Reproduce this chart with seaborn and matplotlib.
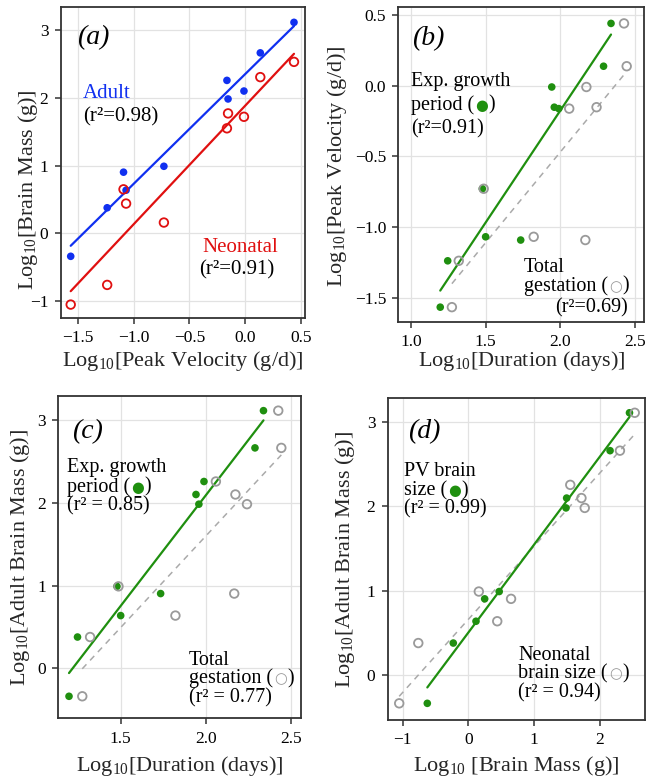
import numpy as np
import pandas as pd
import matplotlib
matplotlib.use("Agg")
import matplotlib.pyplot as plt
import seaborn as sns
from matplotlib.ticker import FixedLocator, FuncFormatter

# ---------------- data (log10 values, one entry per species) ----------------
peak_velocity  = [0.44, 0.137, -0.163, -0.010, -0.153, -0.730, -1.070, -1.093, -1.240, -1.568]
adult_brain    = [3.113, 2.663, 2.257, 2.100, 1.983, 0.990, 0.637, 0.903, 0.378, -0.338]
neonatal_brain = [2.53, 2.305, 1.55, 1.72, 1.77, 0.16, 0.44, 0.65, -0.76, -1.05]
exp_growth     = [2.34, 2.29, 1.99, 1.943, 1.96, 1.478, 1.50, 1.735, 1.246, 1.196]
gestation      = [2.427, 2.445, 2.06, 2.175, 2.243, 1.487, 1.822, 2.168, 1.32, 1.274]
pv_brain       = [2.45, 2.155, np.nan, 1.495, 1.485, 0.47, 0.117, 0.249, -0.228, -0.623]

df = pd.DataFrame(dict(pv=peak_velocity, adult=adult_brain, neo=neonatal_brain,
                       exp=exp_growth, gest=gestation, pvb=pv_brain))

a_xticks = [-1.5, -1.0, -0.5, 0.0, 0.5]
a_yticks = [-1, 0, 1, 2, 3]
b_xticks = [1.0, 1.5, 2.0, 2.5]
b_yticks = [-1.5, -1.0, -0.5, 0.0, 0.5]
c_xticks = [1.5, 2.0, 2.5]
c_yticks = [0, 1, 2, 3]
d_xticks = [-1, 0, 1, 2]
d_yticks = [0, 1, 2, 3]

# ---------------- style ----------------
sns.set_theme(style="white")
plt.rcParams["font.family"] = ["Liberation Serif", "DejaVu Serif"]
plt.rcParams["mathtext.fontset"] = "custom"
plt.rcParams["mathtext.rm"] = "Liberation Serif"

BLUE = "#1030f0"
RED = "#e01010"
GREEN = "#1f8f0f"
GRAY = "#9a9a9a"
DGRAY = "#aaaaaa"
FRAME = "#333333"

W, H = 647, 782
fig = plt.figure(figsize=(W / 100, H / 100), dpi=100)


def rect(l, t, r, b):
    return [l / W, 1 - b / H, (r - l) / W, (b - t) / H]


boxes = {
    "a": (60.7, 7.3, 305.0, 318.0),
    "b": (398.3, 7.3, 644.3, 322.0),
    "c": (58.3, 396.0, 300.7, 718.3),
    "d": (387.7, 398.3, 645.0, 720.0),
}
axes = {k: fig.add_axes(rect(*v)) for k, v in boxes.items()}


def fmt(spec):
    return FuncFormatter(lambda v, p: (spec % v).replace("-", "\u2212"))


def style_axis(key, xlim, ylim, xt, yt, xfmt, yfmt, xlabel, ylabel,
               xl_base, yl_x, yl_y=None):
    ax = axes[key]
    l, t, r, b = boxes[key]
    ax.set_xlim(*xlim)
    ax.set_ylim(*ylim)
    ax.xaxis.set_major_locator(FixedLocator(xt))
    ax.yaxis.set_major_locator(FixedLocator(yt))
    ax.xaxis.set_major_formatter(fmt(xfmt))
    ax.yaxis.set_major_formatter(fmt(yfmt))
    ax.grid(True, color="#e2e2e2", lw=0.9)
    ax.set_axisbelow(True)
    for s in ax.spines.values():
        s.set_color(FRAME)
        s.set_linewidth(1.3)
        s.set_visible(True)
    ax.tick_params(direction="out", length=4.3, width=1.1, color=FRAME,
                   labelsize=12.5, pad=4.5, labelcolor="black",
                   bottom=True, left=True)
    ax.set_xlabel(xlabel, fontsize=16)
    ax.set_ylabel(ylabel, fontsize=16)
    ax.xaxis.label.set_va("baseline")
    ax.xaxis.set_label_coords(0.5, (b - xl_base) / (b - t))
    if yl_y is None:
        yl_y = (t + b) / 2
    ax.yaxis.label.set_va("center")
    ax.yaxis.label.set_ha("center")
    ax.yaxis.set_label_coords((yl_x - l) / (r - l), (b - yl_y) / (b - t))


def reg(ax, x, y, color, dashed=False):
    kws = dict(lw=1.6, color=color)
    if dashed:
        kws.update(lw=1.1, dashes=(4, 3.5))
    sns.regplot(data=df, x=x, y=y, ax=ax, ci=None, scatter=False,
                color=color, line_kws=kws)


def dots(ax, x, y, color, filled=True):
    if filled:
        sns.scatterplot(data=df, x=x, y=y, ax=ax, s=30, color=color,
                        edgecolor="none", linewidth=0, zorder=4)
    else:
        sns.scatterplot(data=df, x=x, y=y, ax=ax, s=38, facecolor="none",
                        edgecolor=color, linewidth=1.3, zorder=5)


# ---------------- panel a ----------------
ax = axes["a"]
reg(ax, "pv", "adult", BLUE)
reg(ax, "pv", "neo", RED)
dots(ax, "pv", "adult", BLUE)
dots(ax, "pv", "neo", RED, filled=False)

# ---------------- panel b ----------------
ax = axes["b"]
reg(ax, "gest", "pv", DGRAY, dashed=True)
reg(ax, "exp", "pv", GREEN)
dots(ax, "exp", "pv", GREEN)
dots(ax, "gest", "pv", GRAY, filled=False)

# ---------------- panel c ----------------
ax = axes["c"]
reg(ax, "gest", "adult", DGRAY, dashed=True)
reg(ax, "exp", "adult", GREEN)
dots(ax, "exp", "adult", GREEN)
dots(ax, "gest", "adult", GRAY, filled=False)

# ---------------- panel d ----------------
ax = axes["d"]
reg(ax, "neo", "adult", DGRAY, dashed=True)
reg(ax, "pvb", "adult", GREEN)
dots(ax, "pvb", "adult", GREEN)
dots(ax, "neo", "adult", GRAY, filled=False)

LOG = r"$\mathregular{Log_{10}}$"
style_axis("a", (-1.658, 0.539), (-1.248, 3.335), a_xticks, a_yticks, "%.1f", "%d",
           LOG + "[Peak Velocity (g/d)]", LOG + "[Brain Mass (g)]", 366, 28, 190)
style_axis("b", (0.915, 2.563), (-1.673, 0.554), b_xticks, b_yticks, "%.1f", "%.1f",
           LOG + "[Duration (days)]", LOG + "[Peak Velocity (g/d)]", 366, 337, 166)
style_axis("c", (1.133, 2.559), (-0.604, 3.29), c_xticks, c_yticks, "%.1f", "%d",
           LOG + "[Duration (days)]", LOG + "[Adult Brain Mass (g)]", 771.5, 20)
style_axis("d", (-1.225, 2.686), (-0.536, 3.285), d_xticks, d_yticks, "%d", "%d",
           LOG + " [Brain Mass (g)]", LOG + "[Adult Brain Mass (g)]", 771.5, 345)


# ---------------- annotations ----------------
def txt(x, y, s, size=14.5, color="black", **kw):
    return fig.text(x / W, 1 - y / H, s, fontsize=size, color=color,
                    va="baseline", **kw)


def glyph_line(x, y, before, glyph, gcolor, size=14.5, gsize=10.5):
    t1 = txt(x, y, before, size=size)
    g = fig.text(0, 0, glyph, fontsize=gsize, color=gcolor, family="DejaVu Sans")
    g.remove()
    g = plt.annotate(glyph, xy=(1, 0.47), xycoords=t1, xytext=(0.8, 0),
                     textcoords="offset points", fontsize=gsize, color=gcolor,
                     family="DejaVu Sans", va="center", ha="left",
                     annotation_clip=False)
    p = plt.annotate(")", xy=(1, 0.53), xycoords=g, xytext=(0.4, 0),
                     textcoords="offset points", fontsize=size, color="black",
                     va="center", ha="left", annotation_clip=False)
    return t1, g, p


ITAL = dict(style="italic")

# panel a
txt(77, 44, "(a)", size=20, **ITAL)
txt(83, 98, "Adult", size=15, color=BLUE)
txt(83, 121, "(r²=0.98)", size=15)
txt(202, 252, "Neonatal", size=15, color=RED)
txt(199, 274, "(r²=0.91)", size=15)

# panel b
txt(411.7, 45, "(b)", size=20, **ITAL)
txt(411, 86, "Exp. growth")
glyph_line(411, 110, "period (", "●", GREEN)
txt(411, 133, "(r²=0.91)")
txt(524, 272, "Total")
glyph_line(524, 291, "gestation (", "○", GRAY)
txt(628, 312.5, "(r²=0.69)", ha="right")

# panel c
txt(71.7, 438, "(c)", size=20, **ITAL)
txt(67, 471.7, "Exp. growth")
glyph_line(67, 491.7, "period (", "●", GREEN)
txt(67, 510.7, "(r² = 0.85)")
txt(189, 665, "Total")
glyph_line(189, 683.3, "gestation (", "○", GRAY)
txt(189, 702.3, "(r² = 0.77)")

# panel d
txt(408, 438, "(d)", size=20, **ITAL)
txt(404, 476, "PV brain")
glyph_line(404, 495, "size (", "●", GREEN)
txt(404, 513, "(r² = 0.99)")
txt(518, 660, "Neonatal")
glyph_line(518, 678, "brain size (", "○", GRAY)
txt(518, 697, "(r² = 0.94)")

fig.savefig("out.png", dpi=100)
